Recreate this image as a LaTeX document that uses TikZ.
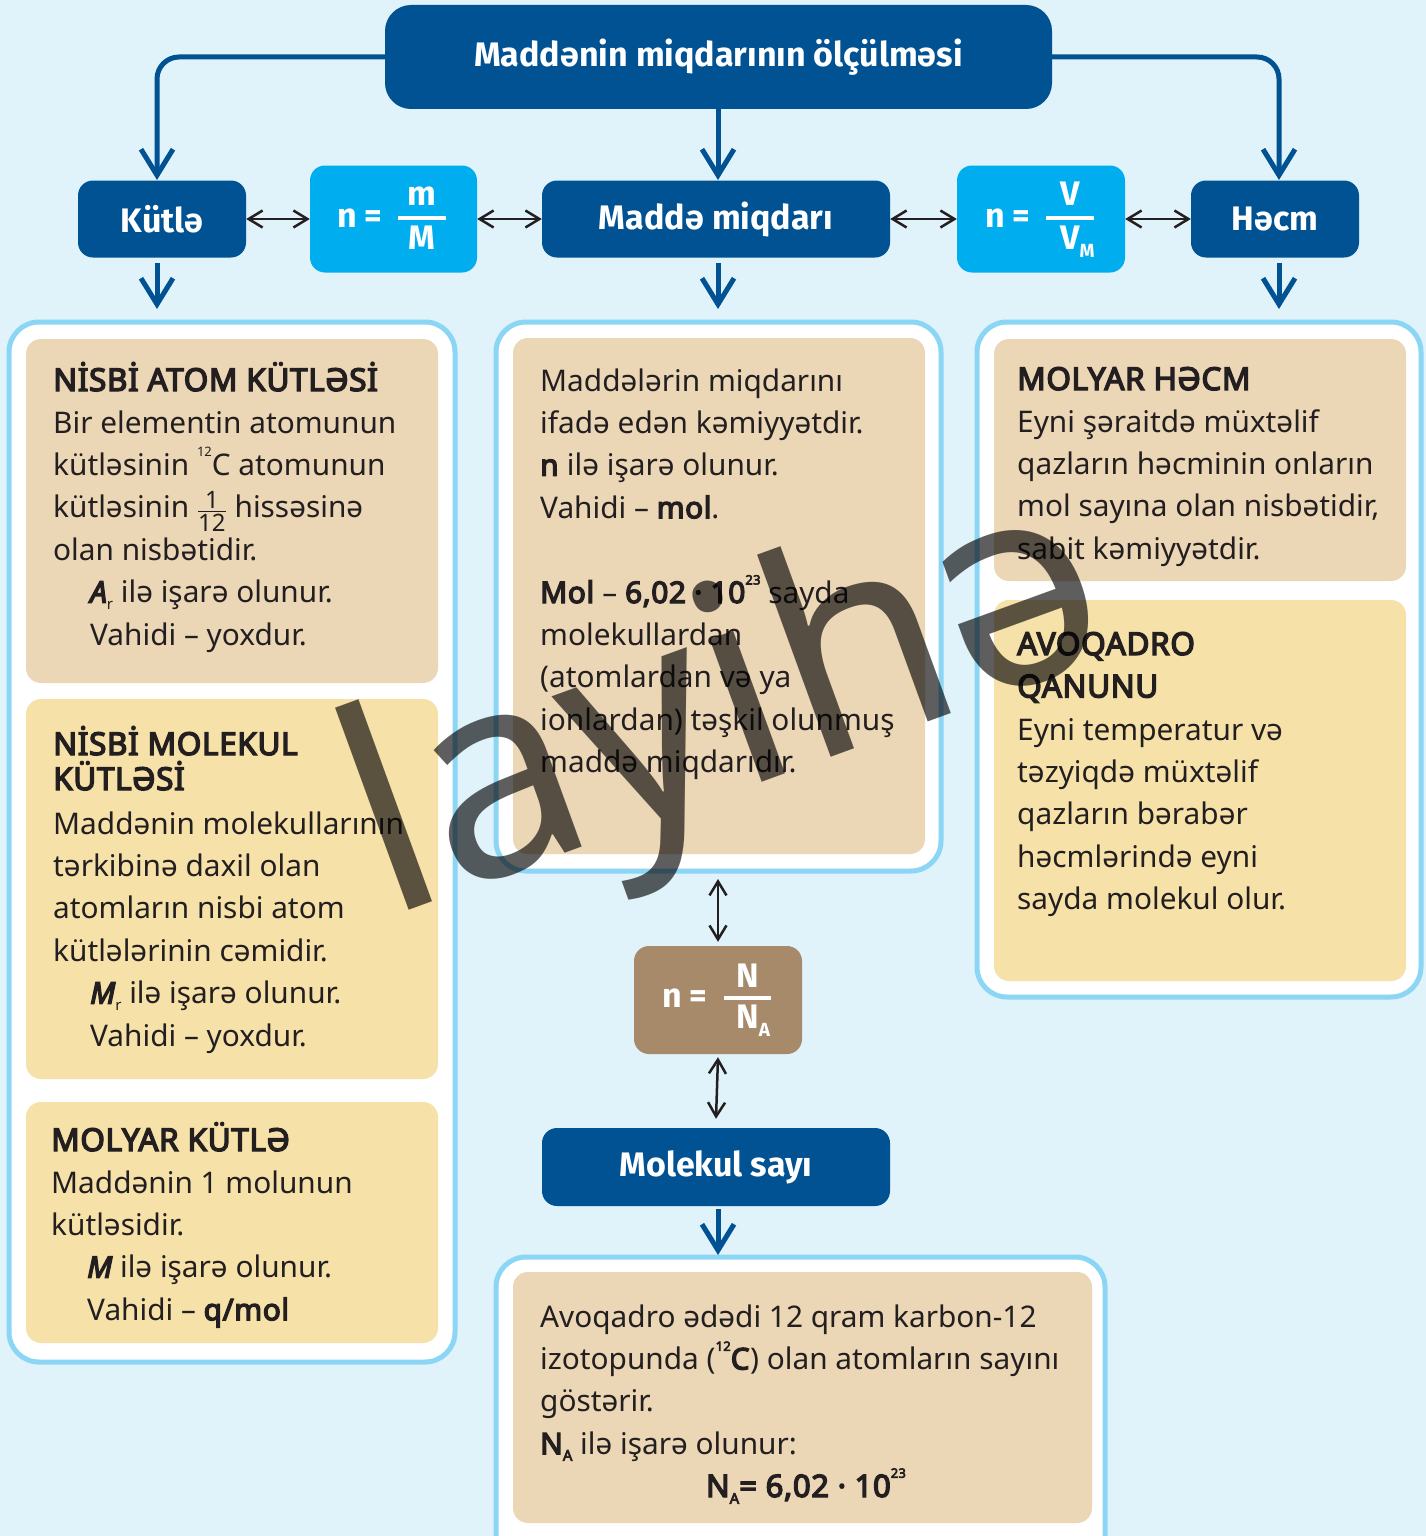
\documentclass[tikz,border=0pt]{standalone}
\usepackage{fontspec}
\usepackage{amsmath}
\setmainfont{Noto Sans}[BoldFont={Noto Sans}, BoldFeatures={FakeBold=4.5, LetterSpace=2}, BoldItalicFont={Noto Sans Italic}, BoldItalicFeatures={FakeBold=4.5}]
\newfontfamily\lblfont{Fira Sans}
\newfontfamily\wmfont{Noto Sans}
\usetikzlibrary{arrows.meta}
\definecolor{bgc}{RGB}{224,242,250}
\definecolor{dblue}{RGB}{0,82,147}
\definecolor{cyanb}{RGB}{0,174,239}
\definecolor{panelb}{RGB}{140,214,245}
\definecolor{tanc}{RGB}{235,214,182}
\definecolor{yelc}{RGB}{246,225,169}
\definecolor{brownc}{RGB}{166,138,106}
\definecolor{txtc}{RGB}{35,31,32}
\newcommand\sups[1]{\raisebox{0.62em}{\fontsize{13}{13}\selectfont #1}}
\newcommand\subs[1]{\raisebox{-0.22em}{\fontsize{15}{15}\selectfont #1}}
\newcommand\fsub[1]{\raisebox{-0.25em}{\fontsize{19}{19}\selectfont #1}}
\newcommand\onetwelfth{\ensuremath{\genfrac{}{}{1.4pt}{1}{\mbox{\fontsize{24}{24}\selectfont 1}}{\mbox{\fontsize{24}{24}\selectfont 12}}}}
\newcommand\bodytext[2]{\parbox[t]{#1}{\raggedright\fontsize{29.8}{42.4}\selectfont #2}}
\newcommand\headtext[3]{\parbox[t]{#1}{\raggedright\fontsize{31.5}{#2}\selectfont\bfseries #3}}
\begin{document}
\begin{tikzpicture}[x=1pt,y=-1pt,
  bluebox/.style={fill=dblue, rounded corners=15pt, text=white, inner sep=0,
    font=\lblfont\bfseries\fontsize{34}{34}\selectfont},
  cyanbox/.style={fill=cyanb, rounded corners=15pt, inner sep=0},
  brownbox/.style={fill=brownc, rounded corners=15pt, inner sep=0},
  lbl/.style={text=white, inner sep=0, font=\lblfont\bfseries\fontsize{34}{34}\selectfont},
  panel/.style={draw=panelb, line width=5pt, fill=white, rounded corners=30pt},
  tanbox/.style={fill=tanc, rounded corners=15pt},
  yelbox/.style={fill=yelc, rounded corners=15pt},
  txt/.style={anchor=base west, inner sep=0, text=txtc},
  barrow/.style={draw=dblue, line width=5pt, -{Straight Barb[length=26pt,width=32pt]}},
  karrow/.style={draw=txtc, line width=2.5pt, {Straight Barb[length=14pt,width=17pt]}-{Straight Barb[length=14pt,width=17pt]}},
  fbar/.style={draw=white, line width=4pt}
]
\useasboundingbox (0,0) rectangle (1426,1536);
\path[clip] (0,0) rectangle (1426,1536);
\fill[bgc] (0,0) rectangle (1426,1536);

% panels
\draw[panel] (9,322) rectangle (455,1362);
\draw[panel] (496,322) rectangle (941,871);
\draw[panel] (977,322) rectangle (1421,997);
\draw[panel] (496,1257) rectangle (1105,1580);
\fill[tanbox] (26,339) rectangle (438,683);
\fill[yelbox] (26,699) rectangle (438,1079);
\fill[yelbox] (26,1102) rectangle (438,1343);
\fill[tanbox] (513,338) rectangle (925,854);
\fill[tanbox] (994,339) rectangle (1406,581);
\fill[yelbox] (994,600) rectangle (1406,981);
\fill[tanbox] (513,1272) rectangle (1092,1523);

% top boxes
\node[bluebox, minimum width=667pt, minimum height=104pt, rounded corners=26pt] (top) at (718.5,57) {Maddənin miqdarının ölçülməsi};
\node[bluebox, minimum width=168pt, minimum height=77pt] (kt) at (162,219) {Kütlə};
\node[cyanbox, minimum width=167pt, minimum height=107pt] (fm) at (393.5,219) {};
\node[bluebox, minimum width=348pt, minimum height=77pt] (mm) at (716,219) {Maddə miqdarı};
\node[cyanbox, minimum width=168pt, minimum height=107pt] (fv) at (1041,219) {};
\node[bluebox, minimum width=168pt, minimum height=77pt] (hc) at (1275,219) {Həcm};
\node[brownbox, minimum width=168pt, minimum height=108pt] (fn) at (718,1000) {};
\node[bluebox, minimum width=348pt, minimum height=78pt] (ms) at (716,1167) {Molekul sayı};

% formulas
\node[lbl, anchor=base west] (fmn) at (337,227) {n =};
\draw[fbar] (398,218) -- (446,218);
\node[lbl, anchor=base] (fmt) at (422,205) {m};
\node[lbl, anchor=base] (fmb) at (422,249) {M};
\node[lbl, anchor=base west] (fvn) at (985,227) {n =};
\draw[fbar] (1046,218) -- (1094,218);
\node[lbl, anchor=base] (fvt) at (1070,205) {V};
\node[lbl, anchor=base west] (fvb) at (1060,249) {V\fsub{M}};
\node[lbl, anchor=base west] (fnn) at (662,1007) {n =};
\draw[fbar] (724,998) -- (771,998);
\node[lbl, anchor=base] (fnt) at (748,987) {N};
\node[lbl, anchor=base west] (fnb) at (736,1028) {N\fsub{A}};

% connectors
\coordinate (ckt) at (157,180);
\coordinate (chc) at (1279,180);
\coordinate (cmm) at (718,180);
\draw[barrow, rounded corners=22pt] (top.west) -| (ckt);
\draw[barrow, rounded corners=22pt] (top.east) -| (chc);
\draw[barrow] (top.south -| cmm) -- (cmm);
\coordinate (d1a) at (157,263); \coordinate (d1b) at (157,309);
\coordinate (d2a) at (718,263); \coordinate (d2b) at (718,309);
\coordinate (d3a) at (1279,263); \coordinate (d3b) at (1279,309);
\draw[barrow] (d1a) -- (d1b);
\draw[barrow] (d2a) -- (d2b);
\draw[barrow] (d3a) -- (d3b);
\draw[karrow] (kt.east) -- (fm.west);
\draw[karrow] (fm.east) -- (mm.west);
\draw[karrow] (mm.east) -- (fv.west);
\draw[karrow] (fv.east) -- (hc.west);
\coordinate (v1) at (718,879);
\draw[karrow] (v1) -- ([yshift=4pt]fn.north);
\draw[karrow] ([yshift=-3pt]fn.south) -- ([yshift=9pt]ms.north);
\coordinate (v2) at (718,1209); \coordinate (v3) at (718,1255);
\draw[barrow] (v2) -- (v3);

% texts left
\node[txt] (h1) at (53,391) {\headtext{400pt}{36}{NİSBİ ATOM KÜTLƏSİ}};
\node[txt] (b1) at (53,433) {\bodytext{400pt}{Bir elementin atomunun\\
kütləsinin \sups{12}C atomunun\\
kütləsinin \onetwelfth\ hissəsinə\\
olan nisbətidir.\\
\hspace*{37pt}\textbf{\textit{A}}\subs{r} ilə işarə olunur.\\
\hspace*{37pt}Vahidi – yoxdur.}};
\node[txt] (h2) at (53,755) {\headtext{400pt}{35}{NİSBİ MOLEKUL\\KÜTLƏSİ}};
\node[txt] (b2) at (53,834) {\bodytext{400pt}{Maddənin molekullarının\\
tərkibinə daxil olan\\
atomların nisbi atom\\
kütlələrinin cəmidir.\\
\hspace*{37pt}\textbf{\textit{M}}\subs{r} ilə işarə olunur.\\
\hspace*{37pt}Vahidi – yoxdur.}};
\node[txt] (h3) at (51,1151) {\headtext{400pt}{36}{MOLYAR KÜTLƏ}};
\node[txt] (b3) at (51,1193) {\bodytext{400pt}{Maddənin 1 molunun\\
kütləsidir.\\
\hspace*{36pt}\textbf{\textit{M}} ilə işarə olunur.\\
\hspace*{36pt}Vahidi – \textbf{q/mol}}};

% middle
\node[txt] (b4) at (540,391) {\bodytext{400pt}{Maddələrin miqdarını\\
ifadə edən kəmiyyətdir.\\
\textbf{n} ilə işarə olunur.\\
Vahidi – \textbf{mol}.\\
\mbox{}\\
\textbf{Mol} – \textbf{6,02 · 10\sups{23}} sayda\\
molekullardan\\
(atomlardan və ya\\
ionlardan) təşkil olunmuş\\
maddə miqdarıdır.}};

% right
\node[txt] (h5) at (1017,390) {\headtext{400pt}{36}{MOLYAR HƏCM}};
\node[txt] (b5) at (1017,432) {\bodytext{400pt}{Eyni şəraitdə müxtəlif\\
qazların həcminin onların\\
mol sayına olan nisbətidir,\\
sabit kəmiyyətdir.}};
\node[txt] (h6) at (1017,655) {\headtext{400pt}{42.4}{AVOQADRO\\QANUNU}};
\node[txt] (b6) at (1017,740) {\bodytext{400pt}{Eyni temperatur və\\
təzyiqdə müxtəlif\\
qazların bərabər\\
həcmlərində eyni\\
sayda molekul olur.}};

% bottom
\node[txt] (b7) at (540,1327) {\bodytext{560pt}{Avoqadro ədədi 12 qram karbon-12\\
izotopunda (\textbf{\sups{12}C}) olan atomların sayını\\
göstərir.\\
\textbf{N\subs{A}} ilə işarə olunur:}};
\node[txt, anchor=base] (b8) at (806,1497) {\fontsize{31}{34}\selectfont\textbf{N\subs{A}= 6,02 · 10\sups{23}}};

% watermark
\node[anchor=base west, rotate=20, inner sep=0, text=black, opacity=0.63, font=\wmfont\fontsize{283}{283}\selectfont] (wm) at (386,919) {layihə};
\end{tikzpicture}
\end{document}
